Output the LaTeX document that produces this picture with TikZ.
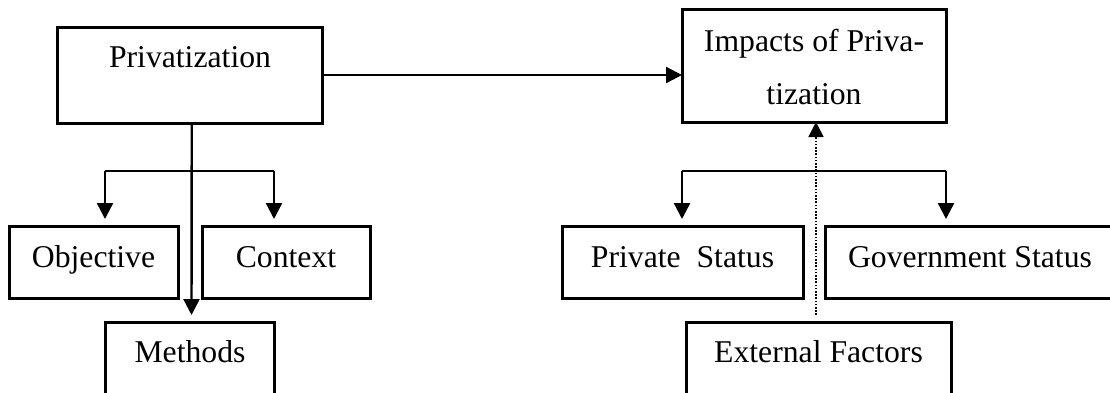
\documentclass[tikz,border=0pt]{standalone}
\usepackage{fontspec}
\setmainfont{Liberation Serif}
\usetikzlibrary{arrows.meta}
\begin{document}
\begin{tikzpicture}[x=1pt,y=-1pt,
  box/.style={draw, line width=3pt, inner sep=0pt, outer sep=0pt},
  txt/.style={font=\fontsize{31.7}{53}\selectfont, inner sep=0pt, anchor=base},
  conn/.style={line width=2.4pt},
  arr/.style={line width=2.4pt, -{Triangle[length=16pt,width=16pt]}},
  dotarr/.style={line width=1.6pt, dash pattern=on 1.6pt off 1.6pt, -{Triangle[length=15pt,width=15pt]}}]
\useasboundingbox (0,0) rectangle (1110,392);
\clip (0,0) rectangle (1110,392);
% boxes
\node[box, minimum width=265.5pt, minimum height=96pt] (priv) at (189.75,75) {};
\node[box, minimum width=169pt, minimum height=72pt] (obj) at (93.5,262) {};
\node[box, minimum width=168pt, minimum height=72pt] (ctx) at (286,262) {};
\node[box, minimum width=169pt, minimum height=96pt] (meth) at (189.5,370) {};
\node[box, minimum width=264pt, minimum height=113pt] (imp) at (814,65.5) {};
\node[box, minimum width=241pt, minimum height=72pt] (pst) at (682.5,262) {};
\node[box, minimum width=289pt, minimum height=72pt] (gov) at (970,262) {};
\node[box, minimum width=265pt, minimum height=96pt] (ext) at (818.5,370) {};
% texts
\node[txt] (privt) at (190,67) {Privatization};
\node[txt] (objt) at (93.5,267) {Objective};
\node[txt] (ctxt) at (286,267) {Context};
\node[txt] (metht) at (190,362) {Methods};
\node[txt, align=center] (impt) at (814,104) {Impacts of Priva-\\tization};
\node[txt] (pstt) at (682.5,267) {Private\ \ Status};
\node[txt] (govt) at (970,267) {Government Status};
\node[txt] (extt) at (818.5,362) {External Factors};
% connectors
\draw[arr] (priv.east) -- (priv.east -| imp.west);
\draw[arr, shorten >=7pt] ([xshift=2pt]priv.south) -- ([xshift=2pt]meth.north);
\coordinate (bl) at (105,171);
\coordinate (br) at (274,171);
\draw[conn] (bl) -- (br);
\draw[arr, shorten >=7pt] (bl) -- (bl |- obj.north);
\draw[arr, shorten >=7pt] (br) -- (br |- ctx.north);
\coordinate (rl) at (imp.west |- bl);
\coordinate (rr) at (imp.east |- bl);
\draw[conn] (rl) -- (rr);
\draw[arr, shorten >=7pt] (rl) -- (rl |- pst.north);
\draw[arr, shorten >=7pt] (rr) -- (rr |- gov.north);
\draw[dotarr, shorten <=7pt] ([xshift=-2.5pt]ext.north) -- ([xshift=-2.5pt]ext.north |- imp.south);
\end{tikzpicture}
\end{document}
